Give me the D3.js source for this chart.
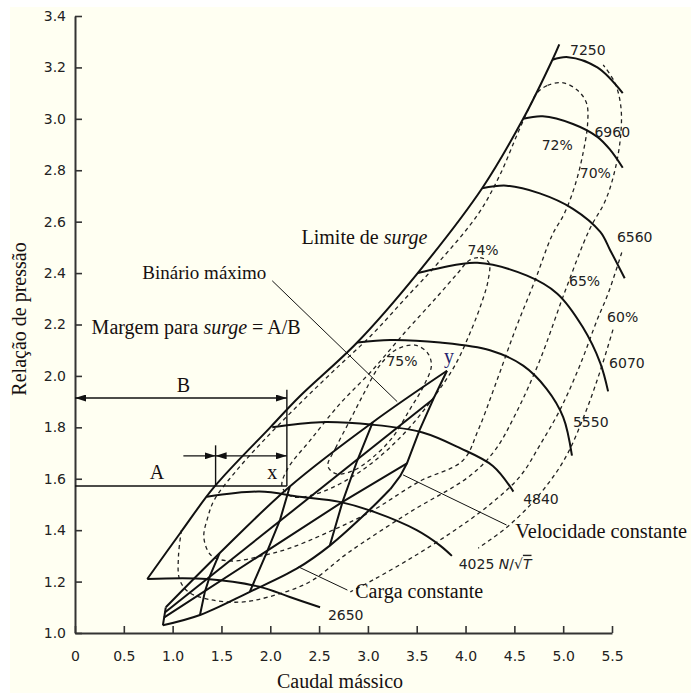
<!DOCTYPE html>
<html>
<head>
<meta charset="utf-8">
<script src="https://cdn.jsdelivr.net/npm/d3@7"></script>
<style>
  body { margin: 0; background: #fff; }
  svg { display: block; }
</style>
</head>
<body>
<svg id="chart" width="691" height="693"></svg>
<script>
// ---- axis ticks ----
const flowTicks = [0, 0.5, 1.0, 1.5, 2.0, 2.5, 3.0, 3.5, 4.0, 4.5, 5.0, 5.5];
const ratioTicks = [1.0, 1.2, 1.4, 1.6, 1.8, 2.0, 2.2, 2.4, 2.6, 2.8, 3.0, 3.2, 3.4];

// ---- surge limit: [mass flow, pressure ratio] ----
const surgeLimit = [[0.74,1.21],[1.08,1.39],[1.43,1.57],[2.00,1.80],[2.30,1.92],[2.89,2.13],
                    [3.51,2.40],[4.17,2.73],[4.59,3.00],[4.89,3.23],[4.96,3.29]];

// ---- constant corrected speed lines N/sqrt(T) ----
const speedNames = ["7250", "6960", "6560", "6070", "5550", "4840", "4025", "2650"];
const speed7250 = [[4.89,3.23],[5.05,3.24],[5.35,3.20],[5.61,3.10]];
const speed6960 = [[4.59,3.00],[4.79,3.01],[5.10,2.98],[5.35,2.93],[5.48,2.88],[5.61,2.81]];
const speed6560 = [[4.17,2.73],[4.42,2.74],[4.76,2.71],[5.10,2.65],[5.38,2.56],[5.48,2.49],[5.63,2.38]];
const speed6070 = [[3.51,2.40],[3.74,2.42],[4.12,2.44],[4.63,2.39],[4.94,2.32],[5.20,2.19],[5.38,2.05],[5.46,1.94]];
const speed5550 = [[2.89,2.13],[3.23,2.14],[3.74,2.13],[4.25,2.10],[4.59,2.04],[4.83,1.95],[5.00,1.84],[5.09,1.69]];
const speed4840 = [[2.02,1.80],[2.51,1.82],[3.05,1.81],[3.56,1.78],[3.94,1.72],[4.28,1.65],[4.49,1.55]];
const speed4025 = [[1.35,1.53],[1.89,1.55],[2.30,1.53],[2.71,1.51],[3.07,1.47],[3.50,1.40],[3.74,1.34],[3.86,1.30]];
const speed2650 = [[0.74,1.21],[1.35,1.21],[1.89,1.18],[2.20,1.14],[2.51,1.10]];
const speedLabelAt = [[5.07,3.25],[5.32,2.93],[5.55,2.52],[5.47,2.03],[5.10,1.80],[4.59,1.50],[3.93,1.25],[2.59,1.05]];

// ---- efficiency contours ----
const effNames = ["75%", "74%", "72%", "70%", "65%", "60%"];
const eff75 = [[2.59,1.65],[2.67,1.72],[2.82,1.83],[2.97,1.94],[3.12,2.04],[3.28,2.10],[3.48,2.12],[3.61,2.09],
               [3.65,2.04],[3.57,1.96],[3.43,1.87],[3.25,1.76],[3.04,1.68],[2.84,1.63],[2.67,1.62]];
const eff74 = [[4.04,2.45],[4.15,2.46],[4.24,2.44],[4.23,2.37],[4.17,2.29],[4.06,2.18],[3.89,2.04],[3.66,1.91],
               [3.38,1.78],[3.07,1.67],[2.76,1.59],[2.46,1.54],[2.23,1.53],[2.12,1.57],[2.18,1.64],[2.41,1.75],
               [2.71,1.89],[3.04,2.02],[3.38,2.17],[3.69,2.30],[3.92,2.40]];
const eff72 = [[4.73,3.10],[4.84,3.13],[5.00,3.14],[5.15,3.11],[5.24,3.06],[5.25,2.98],[5.20,2.86],[5.12,2.74],
               [5.01,2.63],[4.89,2.55],[4.71,2.37],[4.51,2.18],[4.30,1.96],[4.13,1.79],[3.97,1.67],[3.53,1.59],
               [3.02,1.47],[2.58,1.39],[2.20,1.33],[1.91,1.30],[1.61,1.28],[1.40,1.30],[1.32,1.37],[1.36,1.45],
               [1.43,1.52],[1.65,1.63],[1.91,1.74],[2.27,1.88],[2.65,2.02],[3.04,2.16],[3.38,2.30],[3.72,2.44],
               [4.13,2.63],[4.35,2.78],[4.53,2.94],[4.66,3.05]];
const eff70 = [[1.09,1.40],[1.06,1.30],[1.07,1.21],[1.16,1.16],[1.38,1.13],[1.69,1.12],[1.98,1.14],[2.41,1.20],
               [2.79,1.31],[3.43,1.47],[4.04,1.61],[4.30,1.71],[4.51,1.85],[4.76,2.06],[5.02,2.33],[5.27,2.57],
               [5.43,2.68],[5.53,2.80],[5.59,2.94],[5.59,3.05],[5.53,3.14],[5.41,3.21]];
const eff65 = [[5.60,2.48],[5.46,2.32],[5.35,2.22],[5.17,2.04],[4.97,1.87],[4.76,1.73],[4.56,1.61],[4.25,1.50],
               [3.89,1.40],[3.48,1.30],[3.07,1.21],[2.82,1.16]];
const eff60 = [[5.51,2.18],[5.38,2.02],[5.22,1.85],[5.02,1.68],[4.76,1.54],[4.45,1.42],[4.13,1.33]];
const effLabelAt = [[3.19,2.04],[4.02,2.47],[4.78,2.88],[5.17,2.77],[5.06,2.35],[5.45,2.21]];

// ---- engine operating lines: constant load and constant engine speed ----
const load0 = [[0.90,1.03],[1.28,1.07],[1.79,1.16],[2.27,1.25],[2.61,1.34],[3.02,1.48],[3.23,1.56]];
const load1 = [[0.91,1.06],[2.74,1.51],[3.40,1.66]];
const load2 = [[0.92,1.08],[3.67,1.91]];
const load3 = [[0.93,1.10],[1.48,1.31],[2.20,1.57],[3.05,1.82],[3.81,2.02]];
const engSpeed0 = [[0.90,1.03],[0.93,1.10]];
const engSpeed1 = [[1.28,1.07],[1.33,1.16],[1.38,1.22],[1.48,1.31]];
const engSpeed2 = [[1.79,1.16],[1.96,1.31],[2.10,1.44],[2.20,1.57]];
const engSpeed3 = [[2.61,1.34],[2.74,1.51],[2.89,1.67],[3.05,1.82]];
const engSpeed4 = [[3.23,1.56],[3.33,1.61],[3.40,1.66],[3.53,1.79],[3.67,1.91],[3.81,2.02]];

// ---- surge margin construction (A, B, x) ----
const marginB = { y: 1.914, x0: 0, x1: 2.17 };
const marginA = { y: 1.572, x0: 0, x1: 2.17 };
const marginX = { y: 1.689, x0: 1.11, xs: 1.44, x1: 2.17 };
const marginBTop = 1.946, marginXTop = 1.73;

// ---- leader lines ----
const leaderBinario = [[2.02,2.37],[3.30,1.90]];
const leaderVelocidade = [[4.42,1.42],[3.36,1.615]];
const leaderCarga = [[2.79,1.167],[2.29,1.257]];

// ================= drawing =================
const W = 691, H = 693;
const svg = d3.select("#chart");
svg.append("rect").attr("width", W).attr("height", H).attr("fill", "#ffffff");
svg.append("rect").attr("x", 10).attr("y", 7).attr("width", W - 10).attr("height", H - 7).attr("fill", "#fffff2");

const x = d3.scaleLinear().domain([0, 5.5]).range([75, 612]);
const y = d3.scaleLinear().domain([1.0, 3.4]).range([633, 16]);

const straight = d3.line().x(d => x(d[0])).y(d => y(d[1]));
const smooth = d3.line().x(d => x(d[0])).y(d => y(d[1])).curve(d3.curveCatmullRom.alpha(0.5));
const smoothClosed = d3.line().x(d => x(d[0])).y(d => y(d[1])).curve(d3.curveCatmullRomClosed.alpha(0.5));

const INK = "#111";
const SERIF = "'Liberation Serif', 'Times New Roman', serif";
const SANS = "'DejaVu Sans', sans-serif";

const defs = svg.append("defs");
defs.append("marker")
  .attr("id", "arrow").attr("viewBox", "0 0 11 7")
  .attr("refX", 11).attr("refY", 3.5)
  .attr("markerWidth", 11).attr("markerHeight", 7)
  .attr("markerUnits", "userSpaceOnUse")
  .attr("orient", "auto-start-reverse")
  .append("path").attr("d", "M0,0L11,3.5L0,7Z").attr("fill", INK);

// axes
const yAxis = d3.axisLeft(y).tickValues(ratioTicks).tickSize(-7).tickSizeOuter(0)
  .tickPadding(9).tickFormat(d3.format(".1f"));
const xAxis = d3.axisBottom(x).tickValues(flowTicks).tickSize(-7).tickSizeOuter(0)
  .tickPadding(18).tickFormat(d => d === 0 ? "0" : d.toFixed(1));

const gy = svg.append("g").attr("transform", `translate(${x(0)},0)`).call(yAxis);
const gx = svg.append("g").attr("transform", `translate(0,${y(1.0)})`).call(xAxis);
[gx, gy].forEach(g => {
  g.select(".domain").attr("stroke", "#333").attr("stroke-width", 2);
  g.selectAll(".tick line").attr("stroke", "#333").attr("stroke-width", 1.6);
  g.selectAll(".tick text").attr("font-family", SANS).attr("font-size", 14).attr("fill", "#222");
});

// efficiency contours (dashed)
const dashed = svg.append("g").attr("fill", "none").attr("stroke", "#222")
  .attr("stroke-width", 1.3).attr("stroke-dasharray", "4,3.5");
[eff75, eff74, eff72].forEach(c => dashed.append("path").attr("d", smoothClosed(c)));
[eff70, eff65, eff60].forEach(c => dashed.append("path").attr("d", smooth(c)));

// surge limit and speed lines
const solid = svg.append("g").attr("fill", "none").attr("stroke", INK).attr("stroke-width", 2)
  .attr("stroke-linejoin", "round");
solid.append("path").attr("d", smooth(surgeLimit));
const speedSets = [speed7250, speed6960, speed6560, speed6070, speed5550, speed4840, speed4025, speed2650];
speedSets.forEach(s => solid.append("path").attr("d", smooth(s)));

// engine operating lattice
const eng = svg.append("g").attr("fill", "none").attr("stroke", INK).attr("stroke-width", 2)
  .attr("stroke-linejoin", "round");
eng.append("path").attr("d", smooth(load0));
eng.append("path").attr("d", straight(load1));
eng.append("path").attr("d", straight(load2));
eng.append("path").attr("d", smooth(load3));
[engSpeed0, engSpeed1, engSpeed2, engSpeed3, engSpeed4].forEach(s => eng.append("path").attr("d", straight(s)));

// surge margin construction
const dim = svg.append("g").attr("stroke", INK).attr("stroke-width", 1.4).attr("fill", "none");
dim.append("line").attr("x1", x(marginB.x0)).attr("x2", x(marginB.x1))
  .attr("y1", y(marginB.y)).attr("y2", y(marginB.y))
  .attr("marker-start", "url(#arrow)").attr("marker-end", "url(#arrow)");
dim.append("line").attr("x1", x(marginA.x0)).attr("x2", x(marginA.x1))
  .attr("y1", y(marginA.y)).attr("y2", y(marginA.y));
dim.append("line").attr("x1", x(marginX.x0)).attr("x2", x(marginX.xs))
  .attr("y1", y(marginX.y)).attr("y2", y(marginX.y)).attr("marker-end", "url(#arrow)");
dim.append("line").attr("x1", x(marginX.xs)).attr("x2", x(marginX.x1))
  .attr("y1", y(marginX.y)).attr("y2", y(marginX.y))
  .attr("marker-start", "url(#arrow)").attr("marker-end", "url(#arrow)");
dim.append("line").attr("x1", x(marginB.x1)).attr("x2", x(marginB.x1))
  .attr("y1", y(marginBTop)).attr("y2", y(marginA.y));
dim.append("line").attr("x1", x(marginX.xs)).attr("x2", x(marginX.xs))
  .attr("y1", y(marginXTop)).attr("y2", y(marginA.y));

// leader lines
const lead = svg.append("g").attr("stroke", INK).attr("stroke-width", 1).attr("fill", "none");
[leaderBinario, leaderVelocidade, leaderCarga].forEach(l => lead.append("path").attr("d", straight(l)));

// numeric labels
const nums = svg.append("g").attr("font-family", SANS).attr("font-size", 14).attr("fill", "#222");
speedNames.forEach((n, i) => {
  const t = nums.append("text").attr("x", x(speedLabelAt[i][0])).attr("y", y(speedLabelAt[i][1])).text(n);
  if (n === "4025") {
    t.append("tspan").text(" ");
    t.append("tspan").attr("font-style", "italic").text("N");
    t.append("tspan").text("/\u221A");
    t.append("tspan").attr("font-style", "italic").style("text-decoration", "overline").text("T");
  }
});
effNames.forEach((n, i) => {
  nums.append("text").attr("x", x(effLabelAt[i][0])).attr("y", y(effLabelAt[i][1])).text(n);
});

// serif annotations
const ann = svg.append("g").attr("font-family", SERIF).attr("font-size", 20).attr("fill", "#161010");
function label(px, py, parts, anchor) {
  const t = ann.append("text").attr("x", x(px)).attr("y", y(py)).attr("text-anchor", anchor || "start");
  parts.forEach(p => {
    const s = t.append("tspan").text(p[0]);
    if (p[1]) s.attr("font-style", "italic");
  });
  return t;
}
label(0.17, 2.163, [["Margem para "], ["surge", true], [" = A/B"]]);
label(0.69, 2.377, [["Binário máximo"]]).attr("font-size", 19);
label(2.32, 2.514, [["Limite de "], ["surge", true]]);
label(4.51, 1.37, [["Velocidade constante"]]).attr("font-size", 20.3);
label(2.87, 1.136, [["Carga constante"]]);
label(1.11, 1.938, [["B"]], "middle");
label(0.84, 1.60, [["A"]], "middle");
label(2.02, 1.60, [["x"]], "middle");
label(3.83, 2.05, [["y"]], "middle").attr("fill", "#26246e");

// axis titles
svg.append("text").attr("transform", "translate(26,319) rotate(-90)")
  .attr("text-anchor", "middle").attr("font-family", SERIF).attr("font-size", 20)
  .attr("fill", "#161010").text("Relação de pressão");
svg.append("text").attr("x", 340).attr("y", 688)
  .attr("text-anchor", "middle").attr("font-family", SERIF).attr("font-size", 20)
  .attr("fill", "#161010").text("Caudal mássico");
</script>
</body>
</html>
